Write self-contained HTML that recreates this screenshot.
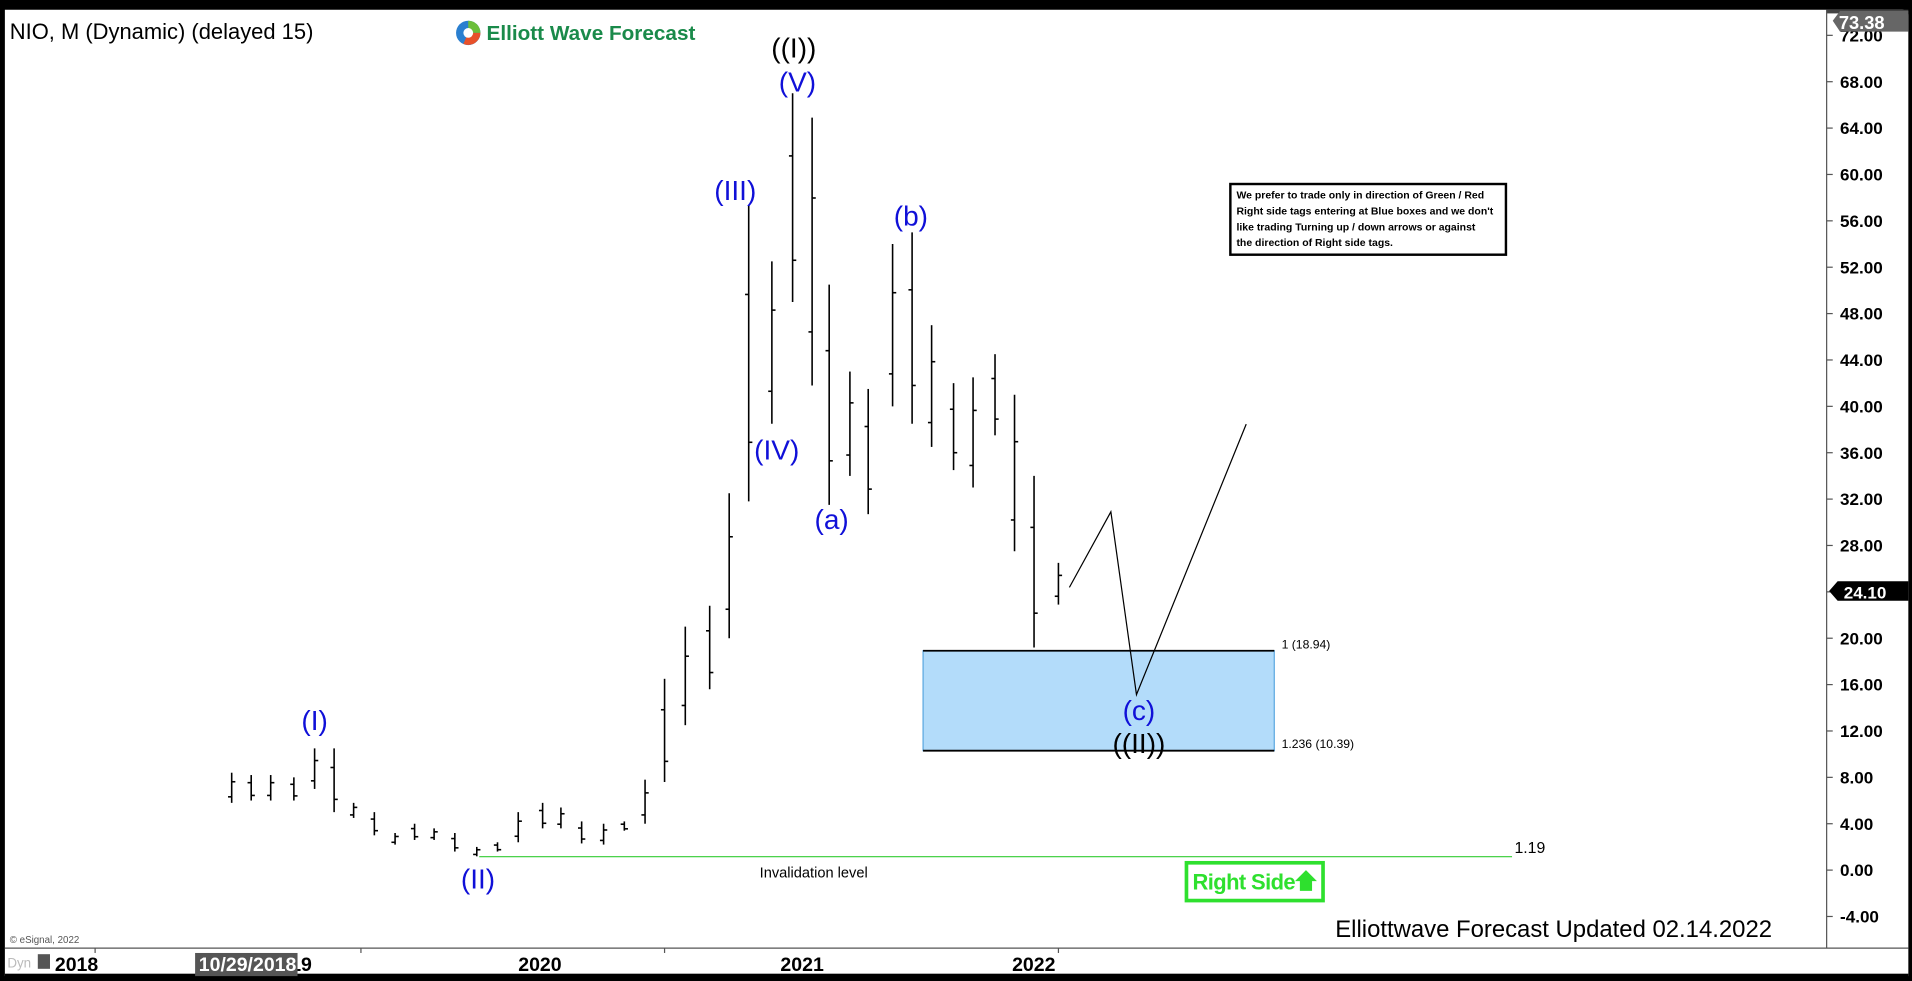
<!DOCTYPE html>
<html><head><meta charset="utf-8"><style>
html,body{margin:0;padding:0;background:#000;}
svg{display:block;}
text{font-family:"Liberation Sans",Arial,sans-serif;}
</style></head><body>
<svg width="1912" height="981" viewBox="0 0 1568 805" preserveAspectRatio="none" xmlns="http://www.w3.org/2000/svg">
<rect x="0" y="0" width="1568" height="805" fill="#000"/>
<path d="M4 8 H1560 Q1565 8 1565 13 V801 H4 Z" fill="#fff"/>
<rect x="1498" y="8" width="67" height="3" fill="#444"/>
<line x1="1498" y1="8" x2="1498" y2="778" stroke="#555" stroke-width="1"/>
<line x1="4" y1="778" x2="1565" y2="778" stroke="#555" stroke-width="1"/>
<rect x="4" y="799" width="1561" height="6" fill="#000"/>
<g font-size="14" font-weight="bold" fill="#000" id="yaxis"></g>
<g id="bars" stroke="#000" stroke-width="1.3"></g>
<path d="M1503 17 L1509 9 H1565 V26 H1509 Z" fill="#666"/>
<text x="1508" y="24" font-size="15" font-weight="bold" fill="#fff">73.38</text>
<path d="M1500 485 L1507 477 H1565 V493 H1507 Z" fill="#000"/>
<text x="1512" y="491" font-size="14" font-weight="bold" fill="#fff">24.10</text>
<text x="8" y="32" font-size="18" fill="#000">NIO, M (Dynamic) (delayed 15)</text>
<circle cx="384" cy="27" r="10" fill="#2a7fd0"/>
<path d="M384 17 A10 10 0 0 1 394 27 L384 27 Z" fill="#6cbf3a"/>
<path d="M394 27 A10 10 0 0 1 380 36 L384 27 Z" fill="#e8512a"/>
<circle cx="384" cy="27" r="4" fill="#fff"/>
<text x="399" y="33" font-size="17" font-weight="bold" fill="#1a8a4a">Elliott Wave Forecast</text>
<rect x="757" y="534" width="288" height="82" fill="#b3dcfa" stroke="#5aa7e0" stroke-width="1"/>
<line x1="757" y1="534" x2="1045" y2="534" stroke="#000" stroke-width="1.5"/>
<line x1="757" y1="616" x2="1045" y2="616" stroke="#000" stroke-width="1.5"/>
<text x="1051" y="532" font-size="10" fill="#000">1 (18.94)</text>
<text x="1051" y="614" font-size="10" fill="#000">1.236 (10.39)</text>
<polyline points="877,482 911,420 932,570 1022,348" fill="none" stroke="#000" stroke-width="1"/>
<line x1="393" y1="703" x2="1240" y2="703" stroke="#3c3" stroke-width="1"/>
<text x="1242" y="700" font-size="13" fill="#000">1.19</text>
<text x="623" y="720" font-size="12" fill="#000">Invalidation level</text>
<rect x="973" y="708" width="112" height="31" fill="#fff" stroke="#2ee02e" stroke-width="3"/>
<text x="978" y="730" font-size="18" font-weight="bold" fill="#2ee02e" letter-spacing="-0.5">Right Side</text>
<path d="M1066 731 V723 H1062 L1071 714 L1080 723 H1076 V731 Z" fill="#2ee02e"/>
<rect x="1009" y="151" width="226" height="58" fill="#fff" stroke="#000" stroke-width="2"/>
<g font-size="8.6" font-weight="bold" fill="#000">
<text x="1014" y="163">We prefer to trade only in direction of Green / Red</text>
<text x="1014" y="176">Right side tags entering at Blue boxes and we don't</text>
<text x="1014" y="189">like trading Turning up / down arrows or against</text>
<text x="1014" y="202">the direction of Right side tags.</text>
</g>
<g font-size="23" fill="#1010d8" text-anchor="middle">
<text x="258" y="599">(I)</text>
<text x="392" y="729">(II)</text>
<text x="603" y="164">(III)</text>
<text x="637" y="377">(IV)</text>
<text x="654" y="75">(V)</text>
<text x="682" y="434">(a)</text>
<text x="747" y="185">(b)</text>
<text x="934" y="591">(c)</text>
</g>
<g font-size="23" fill="#000" text-anchor="middle">
<text x="651" y="47">((I))</text>
<text x="934" y="618">((II))</text>
</g>
<text x="1095" y="769" font-size="19.6" fill="#000">Elliottwave Forecast Updated 02.14.2022</text>
<text x="8" y="774" font-size="8" fill="#555">© eSignal, 2022</text>
<g stroke="#555"><line x1="78" y1="778" x2="78" y2="782"/><line x1="296" y1="778" x2="296" y2="782"/><line x1="545" y1="778" x2="545" y2="782"/><line x1="868" y1="778" x2="868" y2="782"/></g>
<text x="6" y="794" font-size="11" fill="#bbb">Dyn</text>
<rect x="31" y="783" width="10" height="12" fill="#555"/>
<g font-size="16" font-weight="bold" fill="#000">
<text x="45" y="797">2018</text>
<text x="238" y="797">19</text>
<text x="425" y="797">2020</text>
<text x="640" y="797">2021</text>
<text x="830" y="797">2022</text>
</g>
<rect x="160" y="782" width="84" height="19" fill="#555"/>
<text x="163" y="797" font-size="16" font-weight="bold" fill="#fff">10/29/2018</text>
<script>
var ns="http://www.w3.org/2000/svg";
function Y(v){return 714-9.514*v;}
var ya=document.getElementById('yaxis');
for(var v=72;v>=-4;v-=4){
 var y=Y(v);
 var l=document.createElementNS(ns,'line');
 l.setAttribute('x1',1498);l.setAttribute('x2',1503);l.setAttribute('y1',y);l.setAttribute('y2',y);l.setAttribute('stroke','#555');ya.appendChild(l);
 var t=document.createElementNS(ns,'text');
 t.setAttribute('x',1509);t.setAttribute('y',y+5);
 t.textContent=(v<0?'-':'')+Math.abs(v).toFixed(2);ya.appendChild(t);
}
var bars=[[190,8.4,5.8],[206,8.2,6],[222,8.2,6],[241,8,6],[258,10.5,7],[274,10.5,5],[290,5.8,4.5],[307,5,3],[324,3.2,2.2],[340,4,2.6],[356,3.6,2.6],[373,3.2,1.6],[391,2,1.19],[408,2.4,1.6],[425,5,2.4],[445,5.8,3.6],[460,5.4,3.6],[477,4.2,2.3],[495,4,2.2],[512,4.2,3.4],[529,7.8,4],[545,16.5,7.6],[562,21,12.5],[582,22.8,15.6],[598,32.5,20],[614,57.3,31.8],[633,52.5,38.5],[650,67,49],[666,64.9,41.8],[680,50.5,31.5],[697,43,34],[712,41.5,30.7],[732,54,40],[748,55,38.5],[764,47,36.5],[782,42,34.5],[798,42.5,33],[816,44.5,37.5],[832,41,27.5],[848,34,19.2],[868,26.5,22.9]];
var g=document.getElementById('bars');
bars.forEach(function(b,i){
 var x=b[0],h=Y(b[1]),lo=Y(b[2]);
 var l=document.createElementNS(ns,'line');
 l.setAttribute('x1',x);l.setAttribute('x2',x);l.setAttribute('y1',h);l.setAttribute('y2',lo);g.appendChild(l);
 var o=(i%2?h+(lo-h)*0.3:lo-(lo-h)*0.2), c=(i%2?lo-(lo-h)*0.2:h+(lo-h)*0.3);
 var a=document.createElementNS(ns,'line');a.setAttribute('x1',x-3);a.setAttribute('x2',x);a.setAttribute('y1',o);a.setAttribute('y2',o);g.appendChild(a);
 var c2=document.createElementNS(ns,'line');c2.setAttribute('x1',x);c2.setAttribute('x2',x+3);c2.setAttribute('y1',c);c2.setAttribute('y2',c);g.appendChild(c2);
});
</script>
</svg>
</body></html>
